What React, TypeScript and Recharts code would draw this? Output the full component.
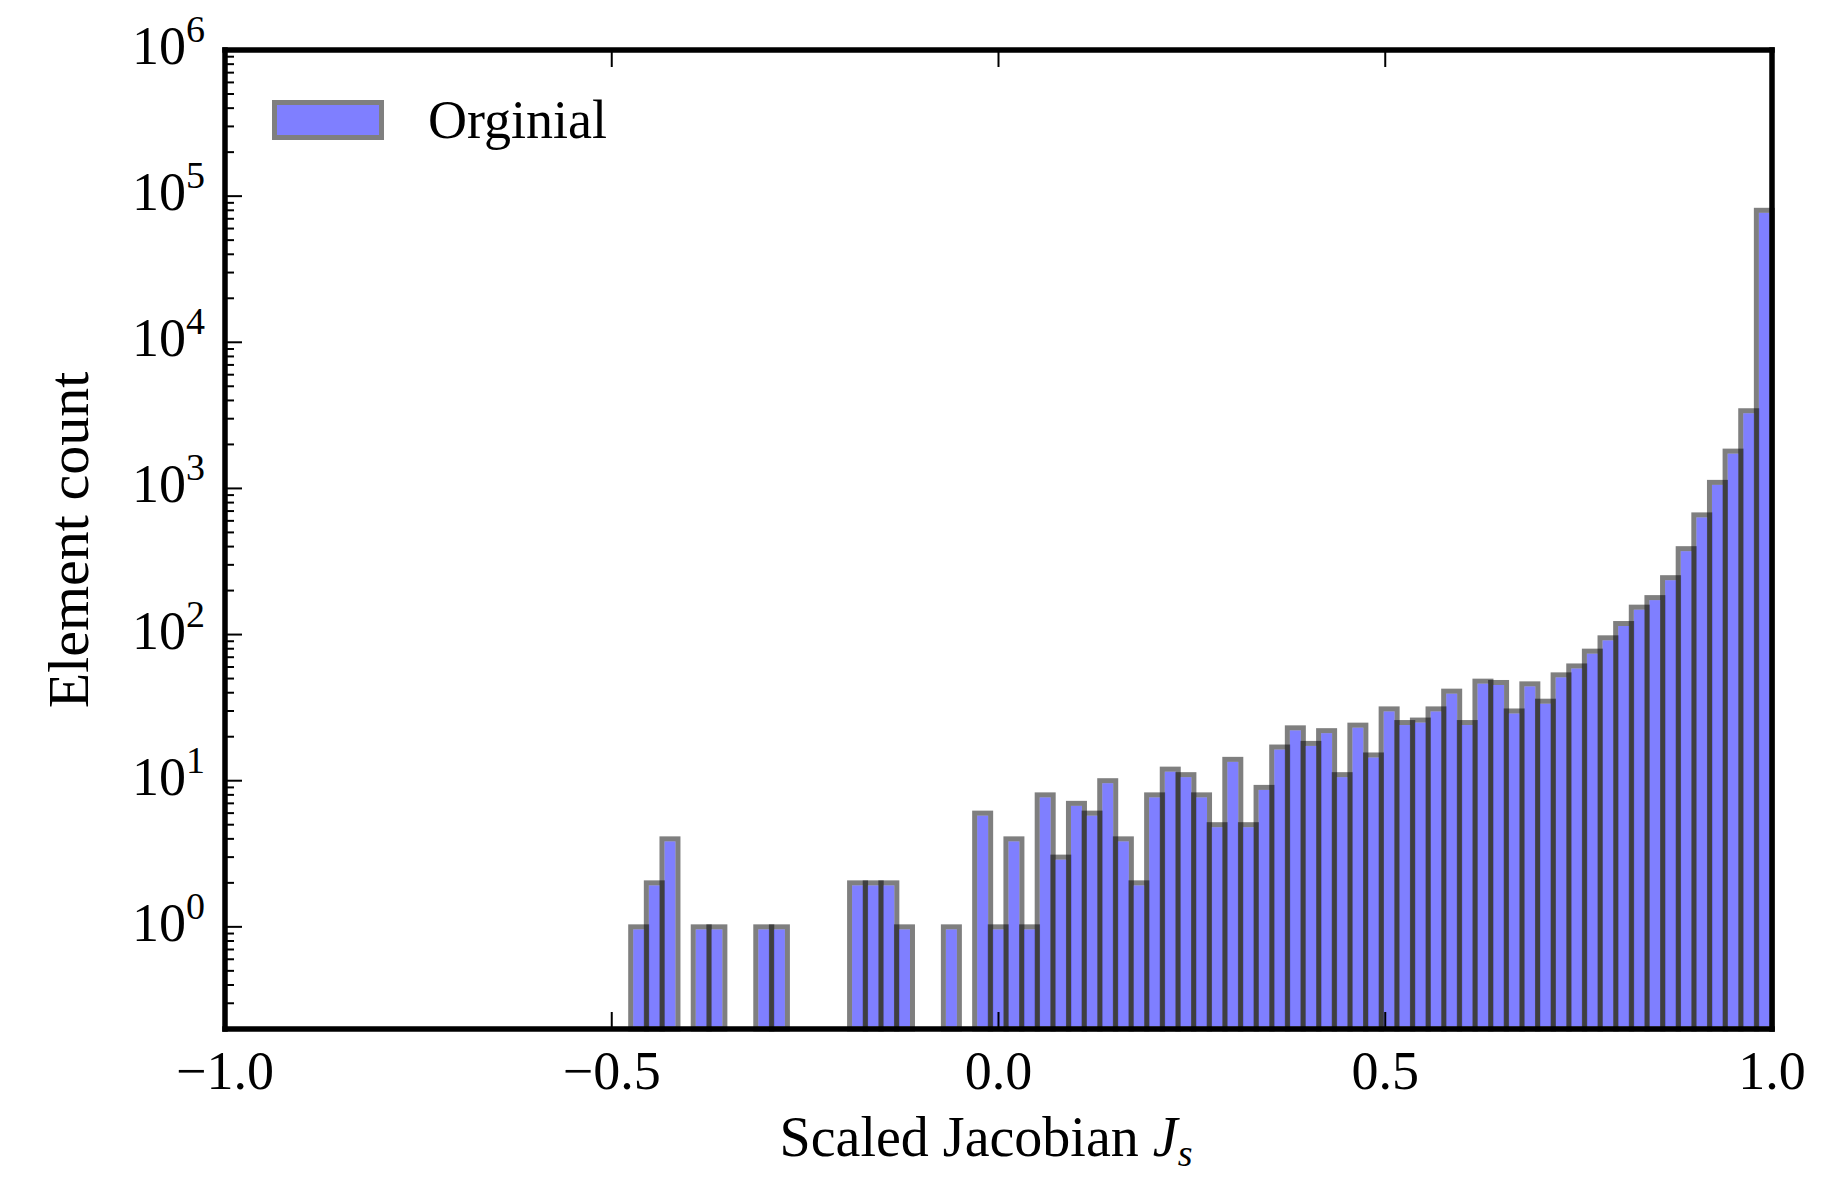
import React from 'react';
import { BarChart, Bar, XAxis, YAxis, Legend, Label } from 'recharts';

// histogram of scaled jacobian
const BIN_MIN = -0.4755;
const BIN_MAX = 1.0;
const counts = [
    1, 2, 4, 0, 1, 1, 0, 0, 1, 1,
    0, 0, 0, 0, 2, 2, 2, 1, 0, 0,
    1, 0, 6, 1, 4, 1, 8, 3, 7, 6,
    10, 4, 2, 8, 12, 11, 8, 5, 14, 5,
    9, 17, 23, 18, 22, 11, 24, 15, 31, 25,
    26, 31, 41, 25, 48, 47, 30, 46, 35, 53,
    61, 77, 95, 119, 154, 179, 245, 387, 659, 1100,
    1800, 3400, 80000,
];

const xTicks = [-1, -0.5, 0, 0.5, 1];
const xTickLabels = ['\u22121.0', '\u22120.5', '0.0', '0.5', '1.0'];
const yMajorTicks = [1, 10, 100, 1000, 10000, 100000, 1000000];
const yDomain: [number, number] = [0.2, 1000000];

const binWidth = (BIN_MAX - BIN_MIN) / counts.length;
const data = counts
    .map((c, i) => ({ x: BIN_MIN + (i + 0.5) * binWidth, count: c }))
    .filter(d => d.count > 0);

// minor log ticks 2..9 in each decade
const yMinorTicks: number[] = [];
[0.1, ...yMajorTicks.slice(0, -1)].forEach(base => {
    for (let m = 2; m <= 9; m++) {
        const v = base * m;
        if (v > yDomain[0] * 1.01) yMinorTicks.push(v);
    }
});
const yTicks = [...yMajorTicks, ...yMinorTicks].sort((a, b) => a - b);

const FONT = '"Liberation Serif", "Times New Roman", serif';
const SW = 5;      // bar edge width
const FRAME = 5.5; // axes frame width

const isMajor = (v: number) => {
    const e = Math.log10(v);
    return Math.abs(e - Math.round(e)) < 1e-6;
};

const BottomTick = (p: any) => {
    const { x, y, payload } = p;
    const i = xTicks.indexOf(payload.value);
    return (
        <g>
            <line x1={x} y1={y} x2={x} y2={y - 17} stroke="#000" strokeWidth={2} />
            <text x={x} y={y + 60} textAnchor="middle" fontFamily={FONT} fontSize={54} fill="#000">{xTickLabels[i]}</text>
        </g>
    );
};

const TopTick = (p: any) => (
    <line x1={p.x} y1={p.y} x2={p.x} y2={p.y + 17} stroke="#000" strokeWidth={2} />
);

const LeftTick = (p: any) => {
    const { x, y, payload } = p;
    const major = isMajor(payload.value);
    return (
        <g>
            <line x1={x} y1={y} x2={x + (major ? 17 : 9)} y2={y} stroke="#000" strokeWidth={2} />
            {major && (
                <text x={x - 20} y={y + 14} textAnchor="end" fontFamily={FONT} fontSize={54} fill="#000">
                    10<tspan dy={-22} fontSize={38}>{Math.round(Math.log10(payload.value))}</tspan>
                </text>
            )}
        </g>
    );
};

const RightTick = (p: any) => {
    const major = isMajor(p.payload.value);
    return <line x1={p.x} y1={p.y} x2={p.x - (major ? 17 : 9)} y2={p.y} stroke="#000" strokeWidth={2} />;
};

const HistBar = (p: any) => {
    const { x, y, width, height } = p;
    if (!height || height <= 0) return null;
    return (
        <g>
            <rect x={x + SW / 2} y={y + SW / 2} width={Math.max(width - SW, 0)} height={Math.max(height - SW, 0)} fill="#0000ff" fillOpacity={0.5} />
            <rect x={x} y={y} width={width} height={height} fill="none" stroke="#000" strokeOpacity={0.5} strokeWidth={SW} />
        </g>
    );
};

const LegendBox = () => (
    <svg width={700} height={200} style={{ display: 'block' }}>
        <rect x={277} y={105} width={102} height={30} fill="#0000ff" fillOpacity={0.5} />
        <rect x={274.5} y={102.5} width={107} height={35} fill="none" stroke="#000" strokeOpacity={0.5} strokeWidth={SW} />
        <text x={428} y={138} fontFamily={FONT} fontSize={54} fill="#000">Orginial</text>
    </svg>
);

const axisLine = { stroke: '#000', strokeWidth: FRAME, strokeLinecap: 'square' as const };

export default function App() {
    return (
        <div style={{ position: 'absolute', left: 0, top: 0, width: 1834, height: 1179, background: '#fff' }}>
            <BarChart
                width={1834}
                height={1179}
                data={data}
                margin={{ top: 49, right: 61, bottom: 0, left: 0 }}
                barCategoryGap={0}
                barGap={0}
            >
                <XAxis
                    xAxisId="b"
                    dataKey="x"
                    type="number"
                    domain={[-1, 1]}
                    ticks={xTicks}
                    interval={0}
                    height={150}
                    tickSize={0}
                    tickMargin={0}
                    tickLine={false}
                    axisLine={axisLine}
                    tick={BottomTick}
                >
                    <Label
                        content={() => (
                            <text x={986} y={1156} textAnchor="middle" fontFamily={FONT} fontSize={56} fill="#000">
                                Scaled Jacobian <tspan fontStyle="italic">J</tspan>
                                <tspan fontStyle="italic" fontSize={38} dy={10}>s</tspan>
                            </text>
                        )}
                    />
                </XAxis>
                <XAxis
                    xAxisId="t"
                    orientation="top"
                    dataKey="x"
                    type="number"
                    domain={[-1, 1]}
                    ticks={xTicks}
                    interval={0}
                    height={1}
                    tickSize={0}
                    tickMargin={0}
                    tickLine={false}
                    axisLine={axisLine}
                    tick={TopTick}
                />
                <YAxis
                    yAxisId="l"
                    type="number"
                    scale="log"
                    domain={yDomain}
                    ticks={yTicks}
                    interval={0}
                    width={225}
                    tickSize={0}
                    tickMargin={0}
                    tickLine={false}
                    axisLine={axisLine}
                    tick={LeftTick}
                >
                    <Label
                        content={() => (
                            <text x={88} y={540} transform="rotate(-90, 88, 540)" textAnchor="middle" fontFamily={FONT} fontSize={58} fill="#000">
                                Element count
                            </text>
                        )}
                    />
                </YAxis>
                <YAxis
                    yAxisId="r"
                    orientation="right"
                    type="number"
                    scale="log"
                    domain={yDomain}
                    ticks={yTicks}
                    interval={0}
                    width={1}
                    tickSize={0}
                    tickMargin={0}
                    tickLine={false}
                    axisLine={axisLine}
                    tick={RightTick}
                />
                <Legend
                    layout="horizontal"
                    verticalAlign="middle"
                    align="center"
                    wrapperStyle={{ left: 0, top: 0, width: 700, height: 200, pointerEvents: 'none' }}
                    content={LegendBox}
                />
                <Bar
                    xAxisId="b"
                    yAxisId="l"
                    dataKey="count"
                    name="Orginial"
                    shape={HistBar}
                    isAnimationActive={false}
                />
            </BarChart>
        </div>
    );
}
